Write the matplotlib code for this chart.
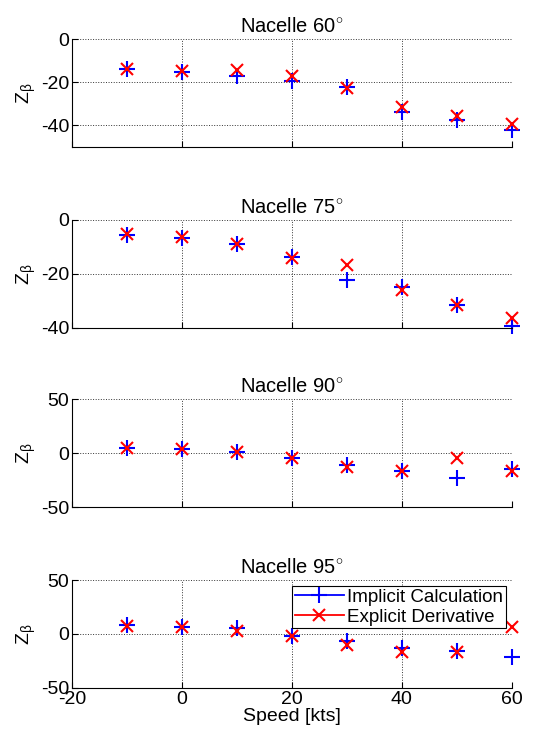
import numpy as np
import matplotlib
matplotlib.use('Agg')
import matplotlib.pyplot as plt

plt.rcParams['font.family'] = ['Liberation Sans', 'DejaVu Sans']
plt.rcParams['mathtext.fontset'] = 'custom'
plt.rcParams['mathtext.rm'] = 'Liberation Sans'
plt.rcParams['mathtext.it'] = 'Liberation Sans'
plt.rcParams['axes.unicode_minus'] = False

speed = [-10, 0, 10, 20, 30, 40, 50, 60]
nacelle = [60, 75, 90, 95]

implicit_60 = [-14.1, -15.2, -16.9, -19.5, -22.4, -33.7, -37.6, -42.0]
explicit_60 = [-14.0, -14.7, -14.4, -17.2, -22.9, -31.7, -35.8, -39.2]
implicit_75 = [-5.5, -6.7, -9.0, -13.7, -22.3, -25.0, -31.5, -39.3]
explicit_75 = [-5.1, -6.5, -8.8, -14.3, -16.8, -26.0, -31.7, -36.3]
implicit_90 = [4.6, 4.0, 1.5, -4.6, -10.8, -16.4, -23.1, -14.5]
explicit_90 = [5.2, 3.7, 1.2, -4.6, -13.0, -17.0, -4.6, -17.0]
implicit_95 = [8.3, 6.7, 5.2, -2.1, -6.7, -13.2, -16.0, -21.5]
explicit_95 = [7.0, 6.7, 3.0, -1.5, -10.0, -16.9, -16.9, 6.1]

implicit = [implicit_60, implicit_75, implicit_90, implicit_95]
explicit = [explicit_60, explicit_75, explicit_90, explicit_95]
ylims = [(-50, 0), (-40, 0), (-50, 50), (-50, 50)]
yticks = [[-40, -20, 0], [-40, -20, 0], [-50, 0, 50], [-50, 0, 50]]

fig = plt.figure(figsize=(5.44, 7.38), dpi=100)
left, width = 0.132, 0.809
bottoms = [0.801, 0.556, 0.313, 0.068]
height = 0.146

for i in range(4):
    ax = fig.add_axes([left, bottoms[i], width, height])
    ax.plot(speed, implicit[i], '+', color='#0000ff', ms=12, mew=1.5,
            label='Implicit Calculation', clip_on=False)
    ax.plot(speed, explicit[i], 'x', color='#ff0000', ms=9, mew=1.5,
            label='Explicit Derivative', clip_on=False)
    ax.set_xlim(-20, 60)
    ax.set_ylim(*ylims[i])
    ax.set_xticks([-20, 0, 20, 40, 60])
    ax.set_yticks(yticks[i])
    ax.grid(True, linestyle=':', color='#333333', lw=0.7)
    ax.spines['top'].set_visible(False)
    ax.spines['right'].set_visible(False)
    ax.tick_params(direction='in', labelsize=14, length=4, width=0.8, pad=2)
    ax.set_title('Nacelle %d$^{\\circ}$' % nacelle[i], fontsize=14.5, pad=5)
    ax.set_ylabel(r'Z$_{\beta}$', fontsize=14, labelpad=2)
    if i < 3:
        ax.set_xticklabels([])
    else:
        ax.set_xlabel('Speed [kts]', fontsize=14, labelpad=0)
        leg = ax.legend(loc='upper right', fontsize=13.5, fancybox=False,
                        framealpha=1, edgecolor='black', borderpad=0.15,
                        handlelength=2.6, handletextpad=0.2, labelspacing=0.15,
                        borderaxespad=0.3)
        leg.get_frame().set_linewidth(0.8)
        for h in leg.legend_handles:
            h.set_linestyle('-')
            h.set_linewidth(1.3)

fig.savefig('out.png', dpi=100)
